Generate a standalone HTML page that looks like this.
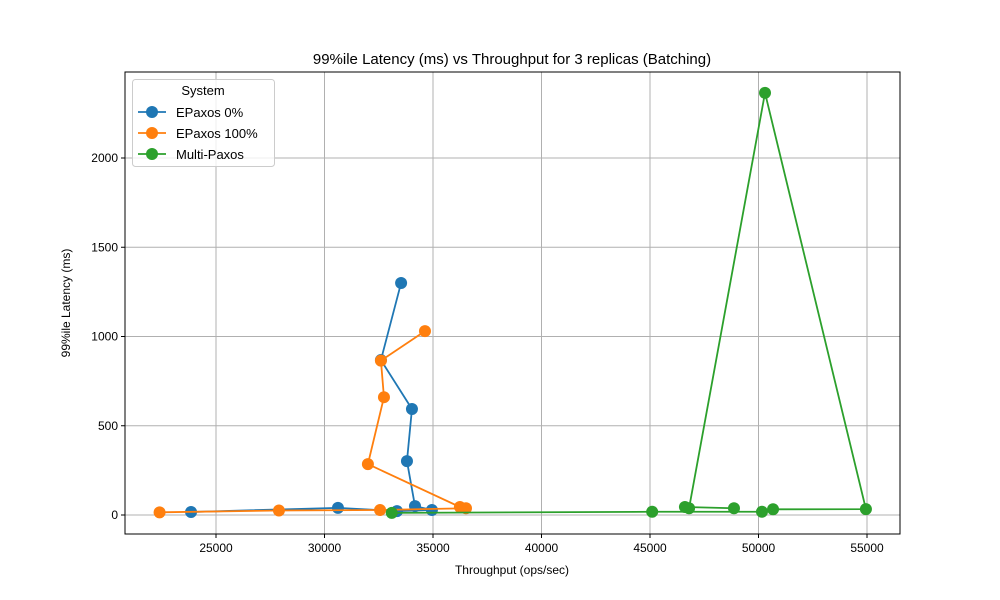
<!DOCTYPE html>
<html><head><meta charset="utf-8"><style>body{margin:0;background:#fff}svg{display:block;font-family:"Liberation Sans","DejaVu Sans",sans-serif}</style></head>
<body>
<svg id="chart" width="1000" height="600" viewBox="0 0 1000 600"></svg>
<script>
const xTicks=[25000,30000,35000,40000,45000,50000,55000];
const yTicks=[0,500,1000,1500,2000];
const seriesNames=["EPaxos 0%","EPaxos 100%","Multi-Paxos"];
const seriesColors=["#1f77b4","#ff7f0e","#2ca02c"];
const epaxos0X=[23850,30620,33340,34950,34170,33800,34030,32600,33530];
const epaxos0Y=[17,40,22,28,50,302,594,868,1300];
const epaxos100X=[22400,27900,32560,36520,36240,32000,32740,32600,34630];
const epaxos100Y=[15,25,28,38,45,285,660,865,1030];
const multiX=[33100,45100,50160,50670,54950,50300,46800,46610,48870];
const multiY=[12,18,18,32,33,2365,38,45,38];
const L=125,R=900,T=72,B=534;
const sx=v=>216+(v-25000)*(433-216)/10000;
const sy=v=>515-v*(515-158)/2000;
const svg=document.getElementById('chart');
const NS='http://www.w3.org/2000/svg';
function mk(t,a,p){const e=document.createElementNS(NS,t);for(const k in a)e.setAttribute(k,a[k]);(p||svg).appendChild(e);return e;}
let e;
e=mk('text',{x:512,y:64,'text-anchor':'middle','font-size':15,fill:'#000'});e.textContent='99%ile Latency (ms) vs Throughput for 3 replicas (Batching)';


xTicks.forEach(v=>{const x=sx(v);
 const g=mk('line',{x1:x,x2:x,y1:T,y2:B,stroke:'#b0b0b0','stroke-width':1});
 
 
 mk('line',{x1:x,x2:x,y1:B,y2:B+4,stroke:'#000'});
 const t=mk('text',{x:x,y:B+18,'text-anchor':'middle','font-size':12});t.textContent=v;
 
 });
yTicks.forEach(v=>{const y=sy(v);
 const g=mk('line',{x1:L,x2:R,y1:y,y2:y,stroke:'#b0b0b0','stroke-width':1});
 
 
 mk('line',{x1:L-4,x2:L,y1:y,y2:y,stroke:'#000'});
 const t=mk('text',{x:L-7,y:y+4,'text-anchor':'end','font-size':12});t.textContent=v;
 
 });
e=mk('text',{x:512,y:574,'text-anchor':'middle','font-size':12});e.textContent='Throughput (ops/sec)';


e=mk('text',{x:70,y:303,'text-anchor':'middle','font-size':12,transform:'rotate(-90 70 303)'});e.textContent='99%ile Latency (ms)';


const data=[[epaxos0X,epaxos0Y],[epaxos100X,epaxos100Y],[multiX,multiY]];
data.forEach((d,i)=>{const g=mk('g',{});
 
 
 const pts=d[0].map((x,j)=>sx(x)+','+sy(d[1][j])).join(' ');
 mk('polyline',{points:pts,fill:'none',stroke:seriesColors[i],'stroke-width':1.8},g);
 d[0].forEach((x,j)=>{const c=mk('circle',{cx:sx(x),cy:sy(d[1][j]),r:6,fill:seriesColors[i]},g);
  
  });});
e=mk('rect',{x:L,y:T,width:R-L,height:B-T,fill:'none',stroke:'#000','stroke-width':1});


const lg=mk('g',{});


mk('rect',{x:132.5,y:79.5,width:142,height:87,rx:3,fill:'#fff','fill-opacity':0.8,stroke:'#ccc'},lg);
e=mk('text',{x:203,y:95,'text-anchor':'middle','font-size':13},lg);e.textContent='System';
seriesNames.forEach((n,i)=>{const y=112+i*21;
 const g=mk('g',{},lg);
 
 
 mk('line',{x1:138,x2:166,y1:y,y2:y,stroke:seriesColors[i],'stroke-width':1.8},g);
 mk('circle',{cx:152,cy:y,r:6,fill:seriesColors[i]},g);
 const t=mk('text',{x:176,y:y+5,'font-size':13},g);t.textContent=n;});
</script>
</body></html>
